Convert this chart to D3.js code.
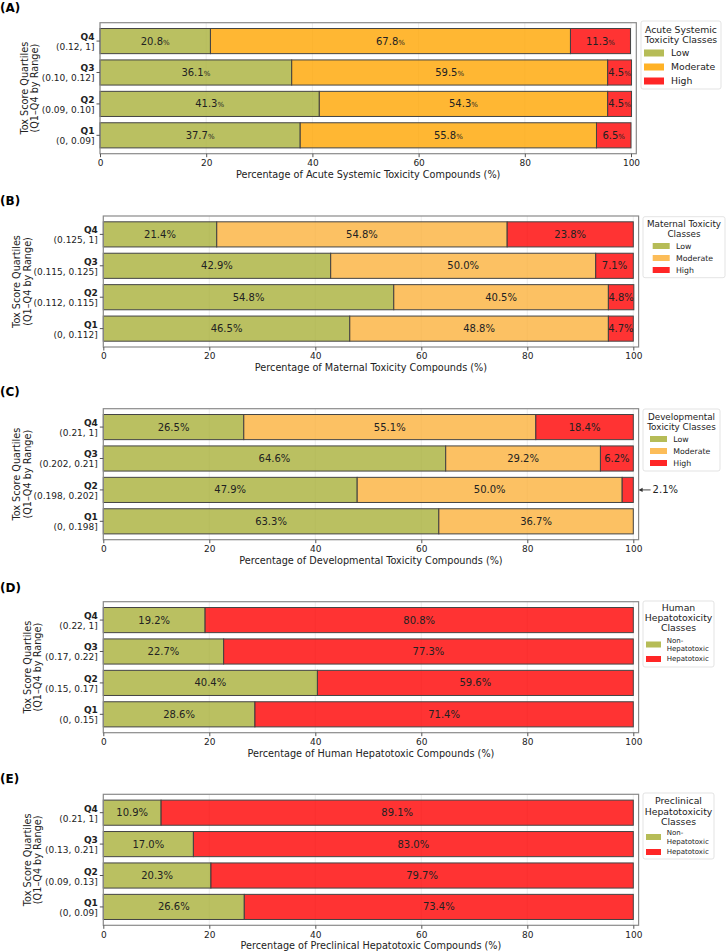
<!DOCTYPE html>
<html>
<head>
<meta charset="utf-8">
<script src="https://cdn.jsdelivr.net/npm/d3@7"></script>
<style>
  body { margin: 0; background: #fff; }
  svg { font-family: "DejaVu Sans", sans-serif; }
</style>
</head>
<body>
<script>
// Quartile labels (top to bottom)
var quartiles = ["Q4", "Q3", "Q2", "Q1"];
var xTicks = [0, 20, 40, 60, 80, 100];

// (A) Acute systemic toxicity
var rangesA = ["(0.12, 1]", "(0.10, 0.12]", "(0.09, 0.10]", "(0, 0.09]"];
var lowA = [20.8, 36.1, 41.3, 37.7];
var modA = [67.8, 59.5, 54.3, 55.8];
var highA = [11.3, 4.5, 4.5, 6.5];

// (B) Maternal toxicity
var rangesB = ["(0.125, 1]", "(0.115, 0.125]", "(0.112, 0.115]", "(0, 0.112]"];
var lowB = [21.4, 42.9, 54.8, 46.5];
var modB = [54.8, 50.0, 40.5, 48.8];
var highB = [23.8, 7.1, 4.8, 4.7];

// (C) Developmental toxicity
var rangesC = ["(0.21, 1]", "(0.202, 0.21]", "(0.198, 0.202]", "(0, 0.198]"];
var lowC = [26.5, 64.6, 47.9, 63.3];
var modC = [55.1, 29.2, 50.0, 36.7];
var highC = [18.4, 6.2, 2.1, 0];

// (D) Human hepatotoxicity
var rangesD = ["(0.22, 1]", "(0.17, 0.22]", "(0.15, 0.17]", "(0, 0.15]"];
var nonD = [19.2, 22.7, 40.4, 28.6];
var hepD = [80.8, 77.3, 59.6, 71.4];

// (E) Preclinical hepatotoxicity
var rangesE = ["(0.21, 1]", "(0.13, 0.21]", "(0.09, 0.13]", "(0, 0.09]"];
var nonE = [10.9, 17.0, 20.3, 26.6];
var hepE = [89.1, 83.0, 79.7, 73.4];

var OLIVE = "#a9b03a", ORANGE = "#ffa500", LORANGE = "#fbb13c", RED = "#ff0000";

var svg = d3.select("body").append("svg")
  .attr("width", 726)
  .attr("height", 951);

// panel settings
var panels = [
  {tag: "(A)", tagY: 12, top: 22.7, x0: 100, x1: 631, ranges: rangesA, yt: [28, 38],
   series: [lowA, modA, highA], colors: [OLIVE, ORANGE, RED], smallPct: true,
   xlabel: "Percentage of Acute Systemic Toxicity Compounds (%)",
   legend: {x: 641, y: 21, w: 80, h: 68, title: ["Acute Systemic", "Toxicity Classes"], titleY: [32.5, 42.5], tfs: 9.3,
            names: [["Low"], ["Moderate"], ["High"]], itemY: [53, 67, 81], px: 644, pw: 20, ph: 7, tx: 671, fs: 9.3}},
  {tag: "(B)", tagY: 205, top: 216, x0: 103.3, x1: 633.3, ranges: rangesB, yt: [20, 30.5],
   series: [lowB, modB, highB], colors: [OLIVE, LORANGE, RED],
   xlabel: "Percentage of Maternal Toxicity Compounds (%)",
   legend: {x: 643, y: 216.7, w: 82, h: 61, title: ["Maternal Toxicity", "Classes"], titleY: [226.5, 236.5], tfs: 8.8,
            names: [["Low"], ["Moderate"], ["High"]], itemY: [246, 258, 270], px: 652.7, pw: 17, ph: 6, tx: 676, fs: 7.8}},
  {tag: "(C)", tagY: 396, top: 408.7, x0: 103.3, x1: 633.3, ranges: rangesC, yt: [20, 30.5],
   series: [lowC, modC, highC], colors: [OLIVE, LORANGE, RED], note: {row: 2, idx: 2},
   xlabel: "Percentage of Developmental Toxicity Compounds (%)",
   legend: {x: 643, y: 409, w: 77, h: 62, title: ["Developmental", "Toxicity Classes"], titleY: [419.5, 429.5], tfs: 8.8,
            names: [["Low"], ["Moderate"], ["High"]], itemY: [439, 451, 463], px: 650, pw: 17, ph: 6, tx: 673.3, fs: 7.8}},
  {tag: "(D)", tagY: 592, top: 601.7, x0: 103.3, x1: 633.3, ranges: rangesD, yt: [30.5, 41],
   series: [nonD, hepD], colors: [OLIVE, RED],
   xlabel: "Percentage of Human Hepatotoxic Compounds (%)",
   legend: {x: 643, y: 601, w: 71, h: 66, title: ["Human", "Hepatotoxicity", "Classes"], titleY: [611, 621.2, 631.4], tfs: 9.3,
            names: [["Non-", "Hepatotoxic"], ["Hepatotoxic"]], itemY: [644.5, 659], px: 646, pw: 15, ph: 6, tx: 666.7, fs: 7}},
  {tag: "(E)", tagY: 783, top: 794.3, x0: 103.3, x1: 633.3, ranges: rangesE, yt: [30.5, 41],
   series: [nonE, hepE], colors: [OLIVE, RED],
   xlabel: "Percentage of Preclinical Hepatotoxic Compounds (%)",
   legend: {x: 643, y: 793, w: 71, h: 66, title: ["Preclinical", "Hepatotoxicity", "Classes"], titleY: [804.3, 814.5, 824.7], tfs: 9.3,
            names: [["Non-", "Hepatotoxic"], ["Hepatotoxic"]], itemY: [837, 852], px: 646, pw: 15, ph: 6, tx: 666.7, fs: 7}}
];

var AX_H = 131;

panels.forEach(function(p) {
  var g = svg.append("g");
  var x = d3.scaleLinear().domain([0, 100]).range([p.x0, p.x1]);
  var xRight = x(101);
  var y = d3.scaleBand().domain(quartiles).range([p.top, p.top + AX_H])
    .paddingInner(0.2).paddingOuter(0.185);
  var bottom = p.top + AX_H;

  // panel tag
  g.append("text").attr("x", 0).attr("y", p.tagY)
    .style("font-size", "12px").style("font-weight", "bold").text(p.tag);

  // faint grid
  g.selectAll(".grid").data(xTicks).enter().append("line")
    .attr("x1", function(d) { return x(d); }).attr("x2", function(d) { return x(d); })
    .attr("y1", p.top).attr("y2", bottom)
    .attr("stroke", "#e8e8e8").attr("stroke-width", 0.8);

  // stacked segments
  var rows = quartiles.map(function(q, i) {
    var start = 0;
    return p.series.map(function(s, k) {
      var seg = {q: q, k: k, v: s[i], x0: start, x1: start + s[i]};
      start += s[i];
      return seg;
    });
  });
  var segs = d3.merge(rows).filter(function(d) { return d.v > 0; });

  g.selectAll(".bar").data(segs).enter().append("rect")
    .attr("x", function(d) { return x(d.x0); })
    .attr("y", function(d) { return y(d.q); })
    .attr("width", function(d) { return x(d.x1) - x(d.x0); })
    .attr("height", y.bandwidth())
    .attr("fill", function(d) { return p.colors[d.k]; })
    .attr("fill-opacity", 0.8)
    .attr("stroke", "#444").attr("stroke-width", 1);

  // value labels
  segs.forEach(function(d) {
    if (p.note && d.q === quartiles[p.note.row] && d.k === p.note.idx) return;
    var t = g.append("text")
      .attr("x", x((d.x0 + d.x1) / 2))
      .attr("y", y(d.q) + y.bandwidth() / 2)
      .attr("dy", "0.35em")
      .attr("text-anchor", "middle")
      .attr("fill", "#222")
      .style("font-size", "10px");
    if (p.smallPct) {
      t.append("tspan").text(d.v.toFixed(1));
      t.append("tspan").style("font-size", "7px").text("%");
    } else {
      t.text(d.v.toFixed(1) + "%");
    }
  });

  // annotation for a tiny segment
  if (p.note) {
    var q = quartiles[p.note.row];
    var cy = y(q) + y.bandwidth() / 2;
    var val = p.series[p.note.idx][p.note.row];
    g.append("line").attr("x1", xRight + 12).attr("x2", xRight + 1)
      .attr("y1", cy).attr("y2", cy).attr("stroke", "#333").attr("stroke-width", 0.9);
    g.append("path")
      .attr("d", "M" + (xRight) + "," + cy + "l4,-2.2l0,4.4z")
      .attr("fill", "#333");
    g.append("text").attr("x", xRight + 14).attr("y", cy).attr("dy", "0.35em")
      .attr("fill", "#222").style("font-size", "10px").text(val.toFixed(1) + "%");
  }

  // frame
  g.append("rect").attr("x", p.x0).attr("y", p.top)
    .attr("width", xRight - p.x0).attr("height", AX_H)
    .attr("fill", "none").attr("stroke", "#8a8a8a").attr("stroke-width", 1.2);

  // x axis
  var xa = g.append("g").attr("transform", "translate(0," + bottom + ")")
    .call(d3.axisBottom(x).tickValues(xTicks).tickSize(3.5).tickPadding(2.5));
  xa.select(".domain").remove();
  xa.selectAll("line").attr("stroke", "#555");
  xa.selectAll("text").attr("fill", "#222").style("font-size", "9px")
    .style("font-family", "DejaVu Sans, sans-serif");

  g.append("text").attr("x", (p.x0 + xRight) / 2).attr("y", bottom + 24)
    .attr("text-anchor", "middle").attr("fill", "#222").style("font-size", "9.7px")
    .text(p.xlabel);

  // y ticks: bold quartile + range
  quartiles.forEach(function(q, i) {
    var cy = y(q) + y.bandwidth() / 2;
    g.append("line").attr("x1", p.x0 - 3.5).attr("x2", p.x0).attr("y1", cy).attr("y2", cy)
      .attr("stroke", "#555");
    g.append("text").attr("x", p.x0 - 5.5).attr("y", cy - 1)
      .attr("text-anchor", "end").attr("fill", "#222")
      .style("font-size", "9px").style("font-weight", "bold").text(q);
    g.append("text").attr("x", p.x0 - 5.5).attr("y", cy + 9)
      .attr("text-anchor", "end").attr("fill", "#222")
      .style("font-size", "9px").text(p.ranges[i]);
  });

  // y axis title
  var cyMid = p.top + AX_H / 2;
  ["Tox Score Quartiles", "(Q1\u2013Q4 by Range)"].forEach(function(s, j) {
    g.append("text")
      .attr("transform", "translate(" + p.yt[j] + "," + cyMid + ") rotate(-90)")
      .attr("text-anchor", "middle").attr("fill", "#222").style("font-size", "9.7px")
      .text(s);
  });

  // legend
  var L = p.legend;
  g.append("rect").attr("x", L.x).attr("y", L.y).attr("width", L.w).attr("height", L.h)
    .attr("rx", 2).attr("fill", "#fff").attr("stroke", "#dcdcdc").attr("stroke-width", 0.8);
  L.title.forEach(function(s, j) {
    g.append("text").attr("x", L.x + L.w / 2).attr("y", L.titleY[j])
      .attr("text-anchor", "middle").attr("fill", "#222").style("font-size", L.tfs + "px").text(s);
  });
  L.names.forEach(function(lines, k) {
    var iy = L.itemY[k];
    g.append("rect").attr("x", L.px).attr("y", iy - L.ph / 2).attr("width", L.pw).attr("height", L.ph)
      .attr("fill", p.colors[k]).attr("fill-opacity", 0.85);
    lines.forEach(function(s, j) {
      g.append("text").attr("x", L.tx)
        .attr("y", iy + (j - (lines.length - 1) / 2) * L.fs * 1.2)
        .attr("dy", "0.35em").attr("fill", "#222").style("font-size", L.fs + "px").text(s);
    });
  });
});
</script>
</body>
</html>
